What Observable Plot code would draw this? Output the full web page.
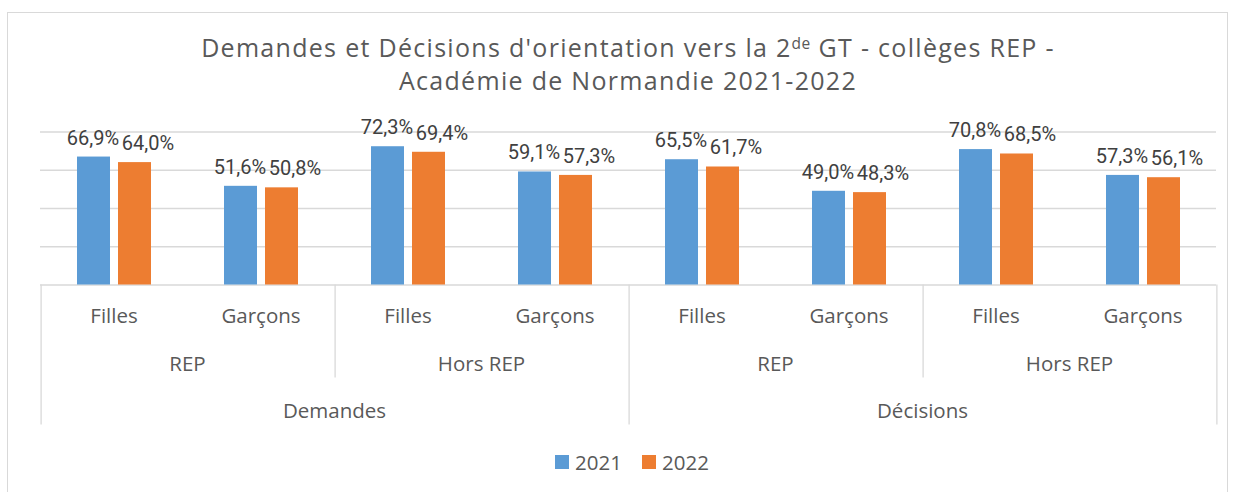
<!DOCTYPE html>
<html lang="fr">
<head>
<meta charset="utf-8">
<script src="https://cdn.jsdelivr.net/npm/d3@7"></script>
<script src="https://cdn.jsdelivr.net/npm/@observablehq/plot@0.6"></script>
<style>
  html, body { margin: 0; padding: 0; background: #fff; }
  #wrap { position: relative; width: 1236px; height: 492px; overflow: hidden; font-family: "Open Sans", sans-serif; }
  #border { position: absolute; left: 7px; top: 12px; width: 1221px; height: 500px; border: 1px solid #d9d9d9; box-sizing: border-box; }
  #title { position: absolute; left: 0; top: 31px; width: 1236px; padding-left: 20px; box-sizing: border-box; text-align: center; color: #595959; font-size: 25px; line-height: 33.4px; letter-spacing: 1.3px; }
  #title sup { font-size: 0.62em; vertical-align: 0.5em; line-height: 0; letter-spacing: 0.5px; }
  #chart { position: absolute; left: 0; top: 100px; }
  #legend { position: absolute; left: 0; top: 447px; width: 1236px; padding-left: 28px; box-sizing: border-box; display: flex; justify-content: center; gap: 20px; color: #595959; font-size: 20.5px; line-height: 30px; }
  #legend .item { display: flex; align-items: center; }
  #legend .sw { width: 14px; height: 14px; margin-right: 6px; display: inline-block; }
</style>
</head>
<body>
<div id="wrap">
  <div id="border"></div>
  <div id="title">Demandes et Décisions d'orientation vers la 2<sup>de</sup> GT - collèges REP -<br>Académie de Normandie 2021-2022</div>
  <div id="chart"></div>
  <div id="legend"></div>
</div>
<script>
// ---- Data ----
const types = ["Demandes", "Décisions"];
const zones = ["REP", "Hors REP"];
const sexes = ["Filles", "Garçons"];
const years = ["2021", "2022"];
const values2021 = [66.9, 51.6, 72.3, 59.1, 65.5, 49.0, 70.8, 57.3];
const values2022 = [64.0, 50.8, 69.4, 57.3, 61.7, 48.3, 68.5, 56.1];
const gridTicks = [20, 40, 60, 80];
const colors = ["#5B9BD5", "#ED7D31"];

// ---- Build tables ----
const categories = [];
for (const t of types) for (const z of zones) for (const s of sexes)
  categories.push({key: `${t}|${z}|${s}`, type: t, zone: z, sex: s});
const keys = categories.map(d => d.key);
const data = categories.flatMap((c, i) => [
  {key: c.key, year: years[0], value: values2021[i]},
  {key: c.key, year: years[1], value: values2022[i]}
]);
const fmt = d => d.value.toFixed(1).replace(".", ",") + "%";

// ---- Layout ----
const W = 1236, H = 340, mL = 37, mR = 17, mT = 31.5, mB = 155.5;
const frameH = H - mT - mB;
const pInner = 0.2, pOuter = 0.86;
const facetW = (W - mL - mR) / keys.length;
const band = d3.scaleBand(years, [0, facetW]).paddingInner(pInner).paddingOuter(pOuter);
const c0 = band(years[0]) + band.bandwidth() / 2;
const c1 = band(years[1]) + band.bandwidth() / 2;

const longSeps = categories.filter(d => d.zone === zones[0] && d.sex === sexes[0]).map(d => d.key);
const shortSeps = categories.filter(d => d.zone === zones[1] && d.sex === sexes[0]).map(d => d.key);
const lastKey = [keys[keys.length - 1]];

const txt = "#595959";
const lblFont = "Roboto, 'Liberation Sans', sans-serif";

const plot = Plot.plot({
  width: W, height: H,
  marginLeft: mL, marginRight: mR, marginTop: mT, marginBottom: mB,
  style: {fontFamily: "'Open Sans', sans-serif", background: "transparent"},
  fx: {domain: keys, padding: 0, axis: null},
  x: {domain: years, paddingInner: pInner, paddingOuter: pOuter, axis: null},
  y: {domain: [0, 80], axis: null},
  color: {domain: years, range: colors},
  marks: [
    Plot.ruleY(gridTicks, {stroke: "#d9d9d9", strokeWidth: 1.3}),
    Plot.ruleY([0], {stroke: "#d9d9d9", strokeWidth: 1.3}),
    Plot.barY(data, {fx: "key", x: "year", y: "value", fill: "year"}),
    Plot.text(data.filter(d => d.year === years[0]), {fx: "key", x: "year", y: "value", text: fmt, lineAnchor: "bottom", dy: -12.5, dx: -1, fill: "#404040", fontSize: 20, fontFamily: lblFont}),
    Plot.text(data.filter(d => d.year === years[1]), {fx: "key", x: "year", y: "value", text: fmt, lineAnchor: "bottom", dy: -12.5, dx: 13, fill: "#404040", fontSize: 20, fontFamily: lblFont}),
    Plot.text(categories, {fx: "key", text: "sex", frameAnchor: "bottom", lineAnchor: "bottom", dy: 38.2, fill: txt, fontSize: 20.5}),
    Plot.text(categories.filter(d => d.sex === sexes[0]), {fx: "key", text: "zone", frameAnchor: "bottom-right", textAnchor: "middle", lineAnchor: "bottom", dy: 86.2, fill: txt, fontSize: 20.5}),
    Plot.text(categories.filter(d => d.zone === zones[0] && d.sex === sexes[1]), {fx: "key", text: "type", frameAnchor: "bottom-right", textAnchor: "middle", lineAnchor: "bottom", dy: 132.8, fill: txt, fontSize: 20.5}),
    Plot.ruleX(longSeps, {fx: d => d, x: () => years[0], dx: -c0, insetTop: frameH, insetBottom: -140, stroke: "#d9d9d9", strokeWidth: 1.3}),
    Plot.ruleX(shortSeps, {fx: d => d, x: () => years[0], dx: -c0, insetTop: frameH, insetBottom: -93, stroke: "#d9d9d9", strokeWidth: 1.3}),
    Plot.ruleX(lastKey, {fx: d => d, x: () => years[1], dx: facetW - c1, insetTop: frameH, insetBottom: -140, stroke: "#d9d9d9", strokeWidth: 1.3})
  ]
});
document.getElementById("chart").appendChild(plot);

// ---- Legend ----
const legend = document.getElementById("legend");
years.forEach((y, i) => {
  const item = document.createElement("div");
  item.className = "item";
  const sw = document.createElement("span");
  sw.className = "sw";
  sw.style.background = colors[i];
  item.appendChild(sw);
  item.appendChild(document.createTextNode(y));
  legend.appendChild(item);
});
</script>
</body>
</html>
